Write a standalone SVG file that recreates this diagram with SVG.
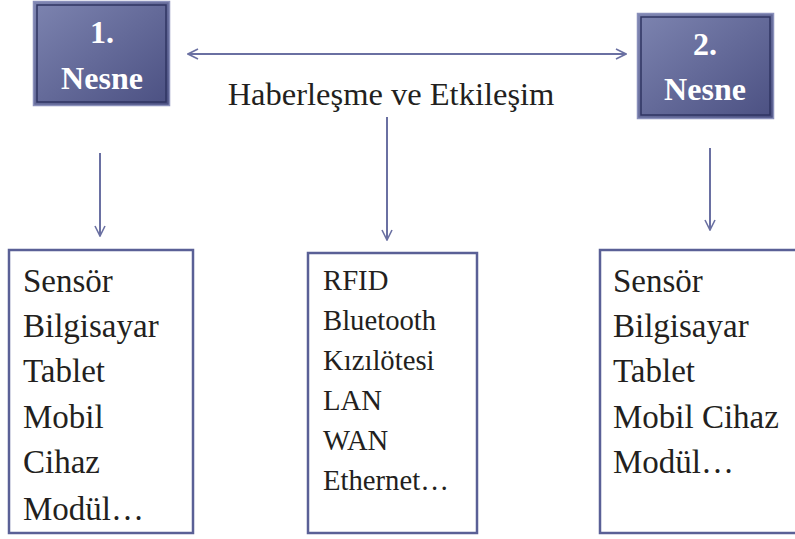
<svg xmlns="http://www.w3.org/2000/svg" width="795" height="539" viewBox="0 0 795 539">
<style>
text{font-family:'Liberation Serif',Tinos,'Times New Roman',serif}
.nt{font-weight:bold;fill:#ffffff;font-size:32px;text-anchor:middle}
.lbl{fill:#231f20}
.box{fill:#ffffff;stroke:#5a6096;stroke-width:2.5}
.conn{stroke:#6a70a2;stroke-width:2;fill:none}
</style>
<defs>
<linearGradient id="g" x1="0" y1="0" x2="1" y2="1">
<stop offset="0" stop-color="#7d84b0"/>
<stop offset="1" stop-color="#4b5082"/>
</linearGradient>
<marker id="ah" viewBox="0 0 12 12" refX="11" refY="6" markerWidth="12" markerHeight="12" markerUnits="userSpaceOnUse" orient="auto-start-reverse">
<path d="M1,1 L11,6 L1,11" fill="none" stroke="#6a70a2" stroke-width="1.6"/>
</marker>
</defs>
<rect width="795" height="539" fill="#ffffff"/>
<g id="nesne1">
<rect x="33.5" y="1.5" width="136" height="104" fill="url(#g)" stroke="#8a90bb" stroke-width="1.5"/>
<rect x="37" y="5" width="129" height="97" fill="none" stroke="#2f3462" stroke-width="1.5"/>
<text class="nt" x="102" y="43">1.</text>
<text class="nt" x="102" y="89">Nesne</text>
</g>
<g id="nesne2">
<rect x="637.5" y="13.5" width="136" height="105" fill="url(#g)" stroke="#8a90bb" stroke-width="1.5"/>
<rect x="641" y="17" width="129" height="98" fill="none" stroke="#2f3462" stroke-width="1.5"/>
<text class="nt" x="705" y="55">2.</text>
<text class="nt" x="705" y="100">Nesne</text>
</g>
<g id="baslik">
<text class="lbl" x="391" y="105" font-size="32.5" text-anchor="middle">Haberleşme ve Etkileşim</text>
</g>
<g id="cihazlar1">
<rect class="box" x="9" y="250" width="184" height="283"/>
<g class="lbl" font-size="33">
<text x="23" y="292">Sensör</text>
<text x="23" y="337">Bilgisayar</text>
<text x="23" y="382">Tablet</text>
<text x="23" y="428">Mobil</text>
<text x="23" y="473">Cihaz</text>
<text x="23" y="520">Modül…</text>
</g>
</g>
<g id="iletisim">
<rect class="box" x="308" y="253" width="169" height="280"/>
<g class="lbl" font-size="28.7">
<text x="323" y="290">RFID</text>
<text x="323" y="330">Bluetooth</text>
<text x="323" y="370">Kızılötesi</text>
<text x="323" y="410">LAN</text>
<text x="323" y="450">WAN</text>
<text x="323" y="490">Ethernet…</text>
</g>
</g>
<g id="cihazlar2">
<rect class="box" x="600" y="250" width="205" height="283"/>
<g class="lbl" font-size="33">
<text x="613" y="292">Sensör</text>
<text x="613" y="337">Bilgisayar</text>
<text x="613" y="382">Tablet</text>
<text x="613" y="428">Mobil Cihaz</text>
<text x="613" y="473">Modül…</text>
</g>
</g>
<g id="connectors">
<line class="conn" x1="188" y1="54" x2="626" y2="54" marker-start="url(#ah)" marker-end="url(#ah)"/>
<line class="conn" x1="100" y1="153" x2="100" y2="236" marker-end="url(#ah)"/>
<line class="conn" x1="387" y1="117" x2="387" y2="240" marker-end="url(#ah)"/>
<line class="conn" x1="710" y1="148" x2="710" y2="230" marker-end="url(#ah)"/>
</g>
</svg>
